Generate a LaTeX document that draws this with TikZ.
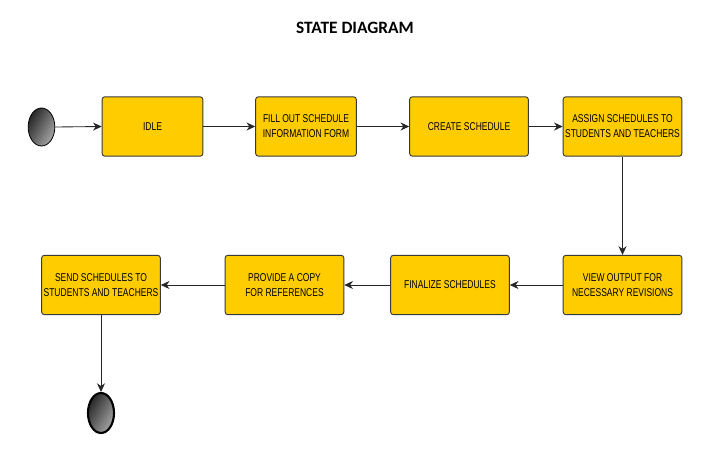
\documentclass[tikz,border=0pt]{standalone}
\usepackage{fontspec}
\usepackage{tikz}
\usetikzlibrary{arrows.meta,shapes.geometric}
\newfontfamily\boxfont[FakeStretch=0.75]{Liberation Sans}
\newfontfamily\titlefont{Carlito}
\definecolor{stategold}{HTML}{FFCC00}
\definecolor{stateline}{HTML}{3A3A3A}
\begin{document}
\begin{tikzpicture}[x=0.75pt,y=-0.75pt,
% common options for the states:
block/.style = {draw=stateline, fill=stategold, rounded corners=2pt, align=center,
            minimum height=44.5pt, inner sep=0, line width=0.7pt,
            font=\boxfont\fontsize{8.5}{11.25}\selectfont},
narrow/.style = {block, minimum width=75.5pt},
wide/.style = {block, minimum width=89pt},
% common options for start and end:
ball/.style = {ellipse, draw=black, inner sep=0, shading=axis,
            left color=black!85, right color=black!35, shading angle=60},
% arrows:
flow/.style = {-{Stealth[length=6.5pt,width=6pt]}, line width=0.65pt, draw=black!85}]
\useasboundingbox (0,0) rectangle (710,451);
\node[font=\titlefont\bfseries\fontsize{13}{15}\selectfont] (T) at (355,28) {STATE DIAGRAM};
\node[ball, minimum width=20pt, minimum height=28.5pt, line width=0.6pt] (A0) at (41.5,127) {};
\node[narrow] (A1) at (152.5,126.5) {IDLE};
\node[narrow] (A2) at (306,126.5) {FILL OUT SCHEDULE\\INFORMATION FORM};
\node[wide] (A3) at (469,126.5) {CREATE SCHEDULE};
\node[wide] (A4) at (622.5,126.5) {ASSIGN SCHEDULES TO\\STUDENTS AND TEACHERS};
\node[wide] (B1) at (622.5,285) {VIEW OUTPUT FOR\\NECESSARY REVISIONS};
\node[wide] (B2) at (450,285) {FINALIZE SCHEDULES};
\node[wide] (B3) at (284.5,285) {PROVIDE A COPY\\FOR REFERENCES};
\node[wide] (B4) at (101,285) {SEND SCHEDULES TO\\STUDENTS AND TEACHERS};
\node[ball, minimum width=19.5pt, minimum height=30pt, line width=1.6pt] (B5) at (101,413) {};
\draw[flow] (A0.east) to (A1.west);
\draw[flow] (A1.east) to (A2.west);
\draw[flow] (A2.east) to (A3.west);
\draw[flow] (A3.east) to (A4.west);
\draw[flow] (A4.south) to (B1.north);
\draw[flow] (B1.west) to (B2.east);
\draw[flow] (B2.west) to (B3.east);
\draw[flow] (B3.west) to (B4.east);
\draw[flow] (B4.south) to (B5.north);
\end{tikzpicture}
\end{document}
